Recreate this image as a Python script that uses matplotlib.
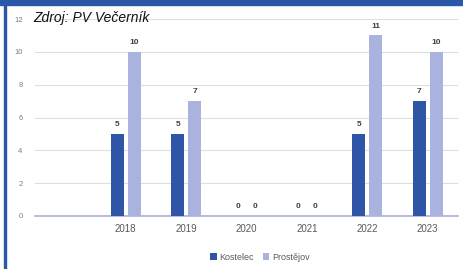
import matplotlib
matplotlib.use("Agg")
import matplotlib.pyplot as plt
import numpy as np

categories = ["", "2018", "2019", "2020", "2021", "2022", "2023"]
kostelec = [np.nan, 5, 5, 0, 0, 5, 7]
prostejov = [np.nan, 10, 7, 0, 0, 11, 10]
series_names = ["Kostelec", "Prostějov"]
yticks = [0, 2, 4, 6, 8, 10, 12]
source_text = "Zdroj: PV Večerník"

plt.rcParams['font.family'] = ['Liberation Sans', 'DejaVu Sans']

fig = plt.figure(figsize=(4.63, 2.69), dpi=100)
ax = fig.add_axes([35/463, 53/269, 423/463, 197/269])

x = np.arange(len(categories))
w = 0.215
off = 0.14
c1 = "#2f56a6"
c2 = "#a9b3dd"
b1 = ax.bar(x - off, kostelec, w, color=c1, label=series_names[0], zorder=3)
b2 = ax.bar(x + off, prostejov, w, color=c2, label=series_names[1], zorder=3)

for xs, vals in ((x - off, kostelec), (x + off, prostejov)):
    for xi, v in zip(xs, vals):
        if not np.isnan(v):
            ax.text(xi, v + 0.35, f"{int(v)}", ha="center", va="bottom",
                    fontsize=6, fontweight="bold", color="#404040", zorder=4)

ax.set_xlim(-0.5, len(categories) - 0.5)
ax.set_ylim(0, 12)
ax.set_yticks(yticks)
ax.set_yticklabels([str(t) for t in yticks], fontsize=5.5, color="#7f7f7f")
ax.set_xticks(x)
ax.set_xticklabels(categories, fontsize=7, color="#595959")
ax.tick_params(axis="both", length=0)
ax.tick_params(axis="y", pad=9)
ax.tick_params(axis="x", pad=6)
ax.grid(axis="y", color="#dedede", linewidth=0.8, zorder=0)
for s in ("top", "right", "left"):
    ax.spines[s].set_visible(False)
ax.spines["bottom"].set_color("#a9b0d8")
ax.spines["bottom"].set_linewidth(1.2)

leg = fig.legend(handles=[b1, b2], labels=series_names, loc="center",
                 bbox_to_anchor=(260/463, 1 - 257/269), ncol=2, frameon=False,
                 fontsize=6.5, handlelength=0.7, handleheight=0.7,
                 handletextpad=0.3, columnspacing=1.0)
for t in leg.get_texts():
    t.set_color("#595959")

fig.text(33/463, 1 - 18/269, source_text, fontsize=10, style="italic",
         color="#111111", ha="left", va="center")

# blue frame: top band and left border
fig.patches.append(plt.Rectangle((0, 1 - 5/269), 1, 5/269, transform=fig.transFigure,
                                 color="#2a58a8", zorder=10))
fig.patches.append(plt.Rectangle((4/463, 0), 2/463, 1, transform=fig.transFigure,
                                 color="#2a58a8", zorder=10))

fig.savefig("out.png", dpi=100)
